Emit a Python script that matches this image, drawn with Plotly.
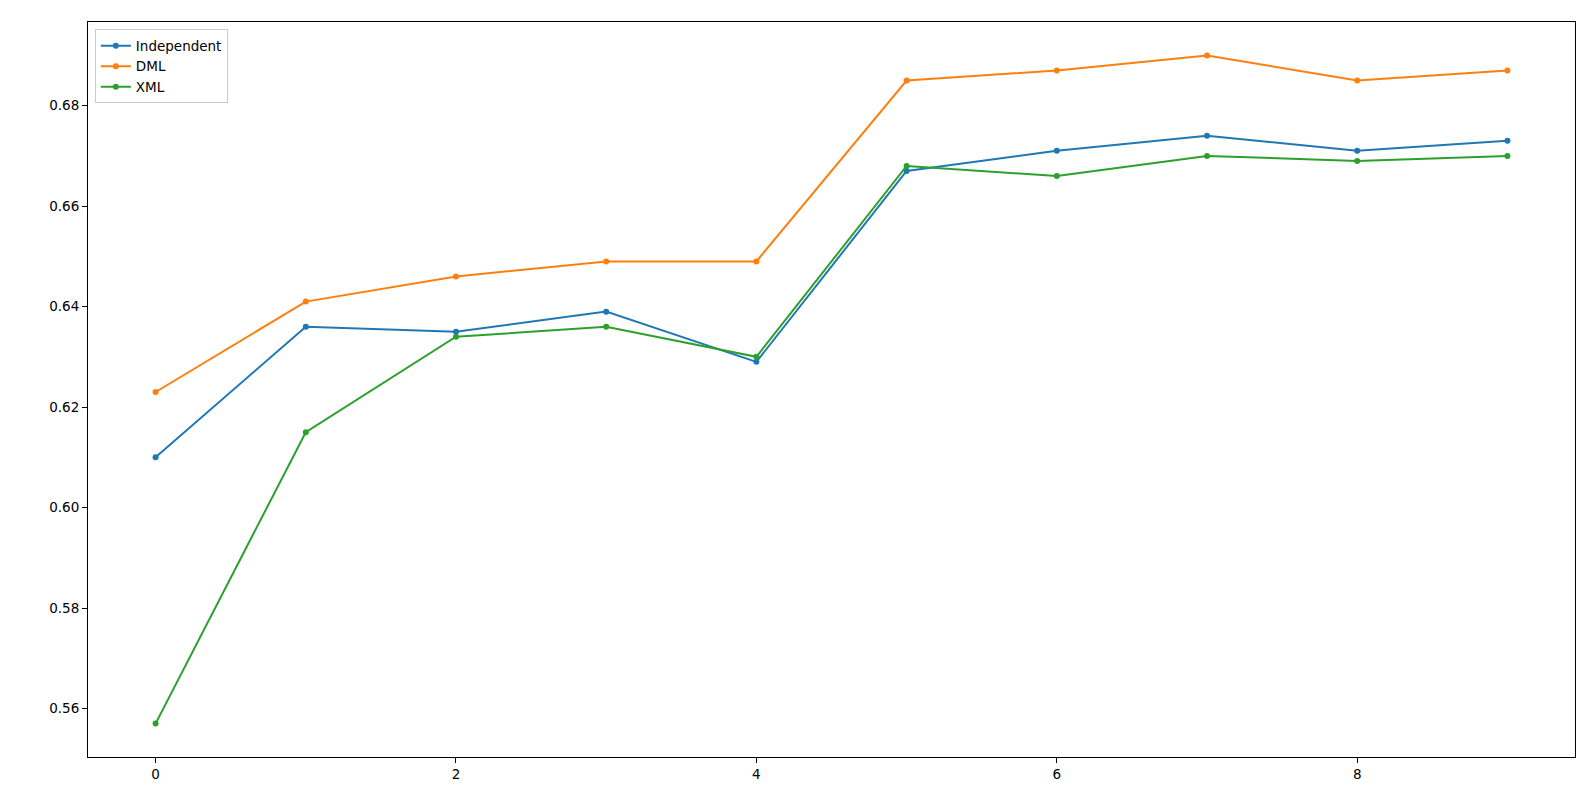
import plotly.graph_objects as go

x_vals = [0, 1, 2, 3, 4, 5, 6, 7, 8, 9]
independent = [0.610, 0.636, 0.635, 0.639, 0.629, 0.667, 0.671, 0.674, 0.671, 0.673]
dml = [0.623, 0.641, 0.646, 0.649, 0.649, 0.685, 0.687, 0.690, 0.685, 0.687]
xml = [0.557, 0.615, 0.634, 0.636, 0.630, 0.668, 0.666, 0.670, 0.669, 0.670]

series = [("Independent", independent, "#1f77b4"),
          ("DML", dml, "#ff7f0e"),
          ("XML", xml, "#2ca02c")]

fig = go.Figure()
for name, vals, color in series:
    fig.add_trace(go.Scatter(
        x=x_vals, y=vals, name=name, mode="lines+markers",
        line=dict(color=color, width=2),
        marker=dict(color=color, size=6),
    ))

axis_common = dict(
    showgrid=False, zeroline=False,
    showline=True, linecolor="black", linewidth=1.1, mirror=True,
    ticks="outside", ticklen=5, tickwidth=1, tickcolor="black",
    tickfont=dict(family="DejaVu Sans", size=13.5, color="black"),
)

ymin, ymax = min(xml), max(dml)
pad = (ymax - ymin) * 0.05

fig.update_layout(
    width=1580, height=791,
    margin=dict(l=79.5, r=13, t=14.3, b=41.7),
    paper_bgcolor="white", plot_bgcolor="white",
    font=dict(family="DejaVu Sans", size=13.5, color="black"),
    xaxis=dict(range=[-0.45, 9.45], tickmode="array", tickvals=[0, 2, 4, 6, 8], **axis_common),
    yaxis=dict(range=[ymin - pad, ymax + pad], tickmode="array",
               tickvals=[0.56, 0.58, 0.60, 0.62, 0.64, 0.66, 0.68], tickformat=".2f", **axis_common),
    legend=dict(x=0.0046, y=0.99, xanchor="left", yanchor="top",
                bgcolor="rgba(255,255,255,0.8)", bordercolor="#cccccc", borderwidth=1,
                font=dict(family="DejaVu Sans", size=13.5), itemwidth=30,
                tracegroupgap=0),
    showlegend=True,
)

fig.write_html("out.html")
